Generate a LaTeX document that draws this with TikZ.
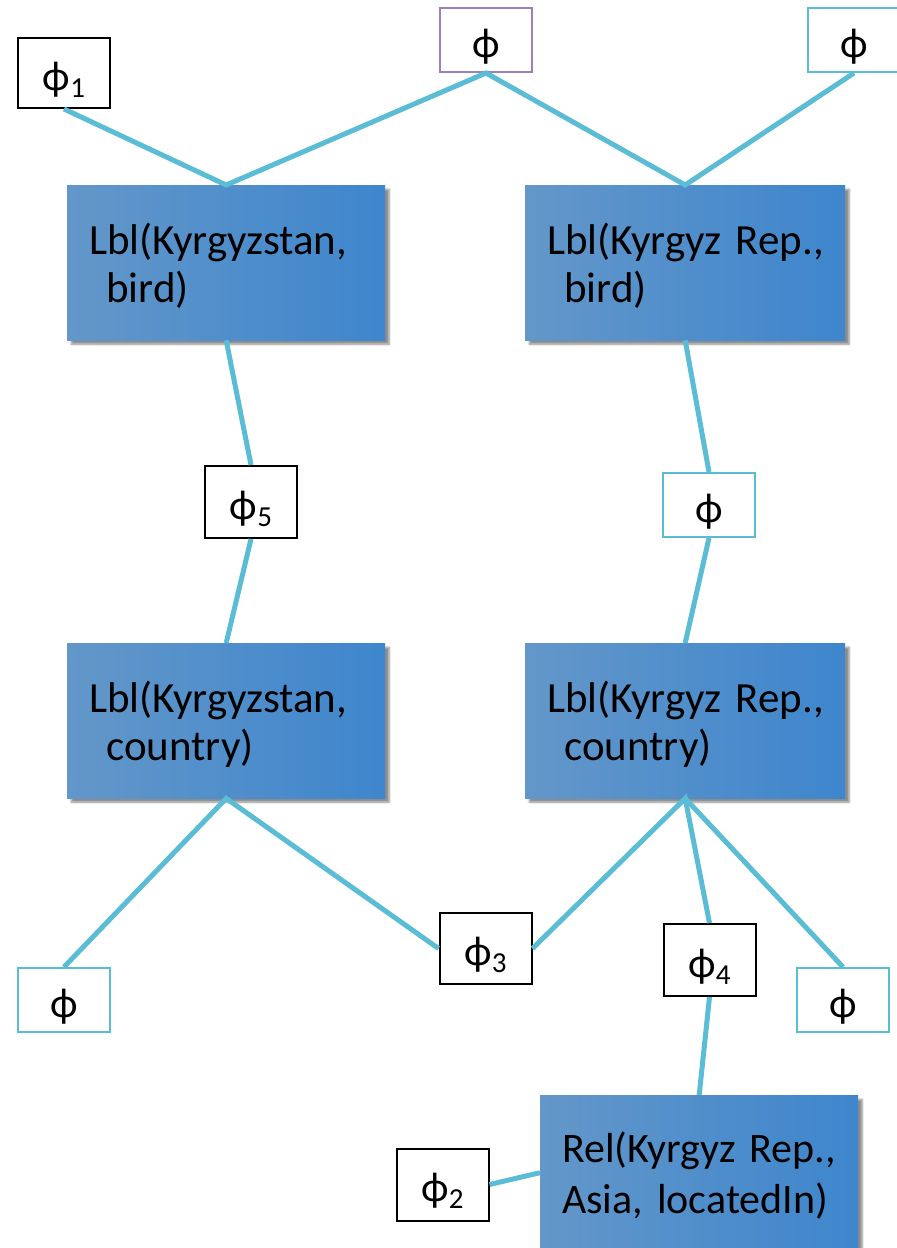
\documentclass[tikz,border=0pt]{standalone}
\usepackage{fontspec}
\setmainfont{Carlito}
\usetikzlibrary{shadows.blur}

\definecolor{link}{HTML}{5BBCD5}
\definecolor{purp}{HTML}{9A80BD}
\definecolor{boxl}{HTML}{6397C9}
\definecolor{boxr}{HTML}{3E86CD}

% factor symbol, optionally with an index
\newcommand{\fac}{ϕ}
\newcommand{\facsub}[1]{ϕ\raisebox{-7pt}{\fontsize{29}{29}\selectfont #1}}
\newcommand{\boxtext}[1]{\raisebox{-17pt}[0pt][0pt]{#1}}

\tikzset{
  var/.style={draw=#1, line width=2pt, fill=white, minimum width=92pt,
    inner sep=0pt, font=\fontsize{42}{42}\selectfont},
  lit/.style={anchor=north west, minimum width=318pt, minimum height=155pt,
    text width=274pt, align=left, inner xsep=22pt, inner ysep=0pt,
    text height=69pt, text depth=86pt,
    left color=boxl, right color=boxr,
    font=\fontsize{43}{48}\selectfont,
    blur shadow={shadow xshift=4pt, shadow yshift=-4pt, shadow opacity=45, shadow blur steps=6}},
  edge/.style={draw=link, line width=5pt},
}

\begin{document}
\begin{tikzpicture}[x=1pt, y=-1pt]
  \useasboundingbox (0,0) rectangle (897,1248);
  \clip (0,0) rectangle (897,1248);

  % factor boxes
  \node[var=black, minimum height=70pt] (f1) at (64,73) {\boxtext{\facsub{1}}};
  \node[var=purp, minimum height=64pt] (ftop) at (486,40) {\boxtext{\fac}};
  \node[var=link, minimum height=64pt] (ftr) at (854,40) {\boxtext{\fac}};
  \node[var=black, minimum height=72pt] (f5) at (251,502) {\boxtext{\facsub{5}}};
  \node[var=link, minimum height=64pt] (fr) at (709,505) {\boxtext{\fac}};
  \node[var=link, minimum height=64pt] (fbl) at (64,1000) {\boxtext{\fac}};
  \node[var=black, minimum height=71pt] (f3) at (485.5,948.5) {\boxtext{\facsub{3}}};
  \node[var=black, minimum height=72pt] (f4) at (709.5,960) {\boxtext{\facsub{4}}};
  \node[var=link, minimum height=64pt] (fbr) at (843,1000) {\boxtext{\fac}};
  \node[var=black, minimum height=72pt] (f2) at (442.5,1184.5) {\boxtext{\facsub{2}}};

  % literal boxes
  \node[lit] (b1) at (67,185) {Lbl(Kyrgyzstan,\\\hspace*{17pt}bird)};
  \node[lit, minimum width=320pt, text width=276pt] (b2) at (525,185) {Lbl(Kyrgyz~Rep.,\\\hspace*{17pt}bird)};
  \node[lit] (b3) at (67,643) {Lbl(Kyrgyzstan,\\\hspace*{17pt}country)};
  \node[lit, minimum width=320pt, text width=276pt] (b4) at (525,643) {Lbl(Kyrgyz~Rep.,\\\hspace*{17pt}country)};
  \node[lit, font=\fontsize{42}{51}\selectfont, text height=67pt, text depth=88pt] (rel) at (540,1095) {Rel(Kyrgyz~Rep.,\\Asia,~locatedIn)};

  % connectors
  \draw[edge] (f1.south) -- (b1.north) -- (ftop.south) -- (b2.north) -- (ftr.south);
  \draw[edge] (b1.south) -- (f5.north);
  \draw[edge] (f5.south) -- (b3.north);
  \draw[edge] (b2.south) -- (fr.north);
  \draw[edge] (fr.south) -- (b4.north);
  \draw[edge] (fbl.north) -- (b3.south) -- (f3.west);
  \draw[edge] (f3.east) -- (b4.south) -- (f4.north);
  \draw[edge] (b4.south) -- (fbr.north);
  \draw[edge] (f4.south) -- (rel.north);
  \draw[edge] (f2.east) -- (rel.west);
\end{tikzpicture}
\end{document}
